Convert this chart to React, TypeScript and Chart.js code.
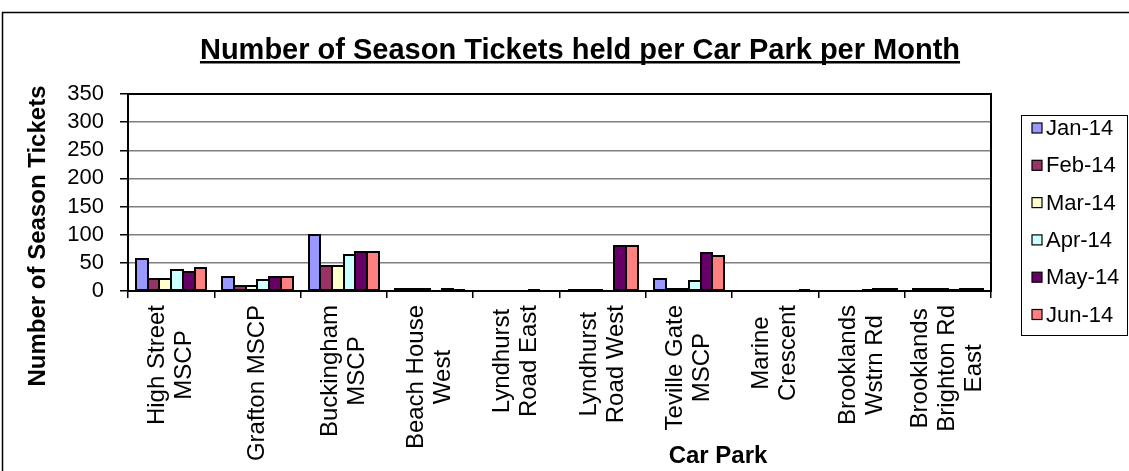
import React, { useEffect, useRef } from "react";
import { Chart, registerables } from "chart.js";

Chart.register(...registerables);

const categories: string[][] = [
  ["High Street", "MSCP"],
  ["Grafton MSCP"],
  ["Buckingham", "MSCP"],
  ["Beach House", "West"],
  ["Lyndhurst", "Road East"],
  ["Lyndhurst", "Road West"],
  ["Teville Gate", "MSCP"],
  ["Marine", "Crescent"],
  ["Brooklands", "Wstrn Rd"],
  ["Brooklands", "Brighton Rd", "East"],
];

const seriesNames = ["Jan-14", "Feb-14", "Mar-14", "Apr-14", "May-14", "Jun-14"];
const jan14 = [57, 25, 99, 3, 0, 2, 21, 0, 0, 3];
const feb14 = [21, 9, 44, 3, 0, 1, 4, 0, 0, 3];
const mar14 = [21, 8, 44, 3, 0, 1, 4, 0, 0, 3];
const apr14 = [37, 20, 64, 0, 0, 0, 18, 0, 1, 1];
const may14 = [34, 25, 70, 3, 1, 80, 67, 0, 4, 3];
const jun14 = [41, 25, 70, 1, 0, 80, 62, 2, 4, 3];
const seriesColors = ["#9999FF", "#993366", "#FFFFCC", "#CCFFFF", "#660066", "#FF8080"];

const yTicks = [0, 50, 100, 150, 200, 250, 300, 350];
const chartTitle = "Number of Season Tickets held per Car Park per Month";
const yTitle = "Number of Season Tickets";
const xTitle = "Car Park";

const FONT = '"Liberation Sans", Arial, sans-serif';

const decorPlugin = {
  id: "decor",
  beforeDraw(chart: any) {
    const ctx = chart.ctx;
    ctx.save();
    ctx.fillStyle = "#fff";
    ctx.fillRect(0, 0, chart.width, chart.height);
    ctx.strokeStyle = "#000";
    ctx.lineWidth = 1.5;
    ctx.strokeRect(2.5, 12.5, 1300, 700);
    ctx.restore();
  },
  afterDatasetsDraw(chart: any) {
    // Excel-like bar outlines, centred on the bar edges
    const ctx = chart.ctx;
    ctx.save();
    ctx.strokeStyle = "#000";
    ctx.lineWidth = 2;
    chart.getSortedVisibleDatasetMetas().forEach((meta: any) => {
      meta.data.forEach((el: any, i: number) => {
        const v = chart.data.datasets[meta.index].data[i];
        if (!v) return;
        const left = Math.round(el.x - el.width / 2);
        const right = Math.round(el.x + el.width / 2);
        const top = Math.round(el.y);
        const base = Math.round(el.base);
        ctx.strokeRect(left, top, right - left, base - top);
      });
    });
    ctx.restore();
  },
  afterDraw(chart: any) {
    const ctx = chart.ctx;
    const area = chart.chartArea;
    ctx.save();
    // plot area border
    ctx.strokeStyle = "#000";
    ctx.lineWidth = 2;
    ctx.strokeRect(area.left, area.top, area.right - area.left, area.bottom - area.top);

    // title
    ctx.fillStyle = "#000";
    ctx.font = `bold 29px ${FONT}`;
    ctx.textAlign = "center";
    ctx.textBaseline = "alphabetic";
    const tx = 580;
    const ty = 59;
    ctx.fillText(chartTitle, tx, ty);
    const tw = ctx.measureText(chartTitle).width;
    ctx.fillRect(tx - tw / 2, ty + 2, tw, 2.5);

    // y title
    ctx.save();
    ctx.translate(38, 236);
    ctx.rotate(-Math.PI / 2);
    ctx.font = `bold 24px ${FONT}`;
    ctx.textAlign = "center";
    ctx.textBaseline = "middle";
    ctx.fillText(yTitle, 0, 0);
    ctx.restore();

    // x title
    ctx.font = `bold 24px ${FONT}`;
    ctx.textAlign = "center";
    ctx.textBaseline = "middle";
    ctx.fillText(xTitle, 718, 456);

    // x category labels (rotated, centred lines)
    const xs = chart.scales.x;
    ctx.font = `24px ${FONT}`;
    const pitch = 27;
    (chart.data.labels as any[]).forEach((lab, i) => {
      const lines: string[] = Array.isArray(lab) ? lab : [lab];
      const cx = xs.getPixelForValue(i);
      const maxW = Math.max(...lines.map((l) => ctx.measureText(l).width));
      const cy = area.bottom + 14 + maxW / 2;
      lines.forEach((ln, j) => {
        const off = (j - (lines.length - 1) / 2) * pitch;
        ctx.save();
        ctx.translate(cx + off, cy);
        ctx.rotate(-Math.PI / 2);
        ctx.textAlign = "center";
        ctx.textBaseline = "middle";
        ctx.fillText(ln, 0, 0);
        ctx.restore();
      });
    });

    // legend
    const lx = 1021.5;
    const ly = 115.5;
    ctx.strokeStyle = "#000";
    ctx.lineWidth = 1;
    ctx.strokeRect(lx, ly, 106, 220);
    ctx.font = `22px ${FONT}`;
    ctx.textAlign = "left";
    ctx.textBaseline = "middle";
    chart.data.datasets.forEach((ds: any, i: number) => {
      const y = 128 + i * 37.3;
      ctx.fillStyle = ds.backgroundColor;
      ctx.fillRect(1032, y - 5, 10, 10);
      ctx.strokeStyle = "#000";
      ctx.lineWidth = 1.2;
      ctx.strokeRect(1032, y - 5, 10, 10);
      ctx.fillStyle = "#000";
      ctx.fillText(ds.label, 1046, y + 1);
    });
    ctx.restore();
  },
};

export default function App() {
  const ref = useRef<HTMLCanvasElement | null>(null);
  useEffect(() => {
    if (!ref.current) return;
    const allSeries = [jan14, feb14, mar14, apr14, may14, jun14];
    const chart = new Chart(ref.current, {
      type: "bar",
      data: {
        labels: categories as any,
        datasets: allSeries.map((d, i) => ({
          label: seriesNames[i],
          data: d,
          backgroundColor: seriesColors[i],
          borderWidth: 0,
          categoryPercentage: 0.813,
          barPercentage: 1.0,
        })),
      },
      options: {
        responsive: false,
        animation: false,
        devicePixelRatio: 1,
        layout: { padding: { top: 94, right: 138, left: 0, bottom: 0 } },
        plugins: {
          legend: { display: false },
          title: { display: false },
          tooltip: { enabled: false },
        },
        scales: {
          x: {
            afterFit: (s: any) => {
              s.height = 180;
            },
            ticks: { display: false },
            grid: {
              display: true,
              offset: true,
              drawOnChartArea: false,
              color: "#000",
              tickLength: 7,
              lineWidth: 1.5,
            },
            border: { display: true, color: "#000", width: 2 },
          },
          y: {
            min: 0,
            max: 350,
            afterFit: (s: any) => {
              s.width = 128;
            },
            afterBuildTicks: (s: any) => {
              s.ticks = yTicks.map((v) => ({ value: v }));
            },
            ticks: {
              color: "#000",
              font: { family: FONT, size: 22 },
              padding: 16,
              autoSkip: false,
            },
            grid: {
              color: "#7f7f7f",
              lineWidth: 1.5,
              tickColor: "#000",
              tickLength: 8,
            },
            border: { display: true, color: "#000", width: 2 },
          },
        },
      },
      plugins: [decorPlugin],
    });
    return () => chart.destroy();
  }, []);
  return (
    <div style={{ position: "fixed", left: 0, top: 0, width: 1129, height: 471, background: "#fff" }}>
      <canvas ref={ref} width={1129} height={471} style={{ display: "block" }} />
    </div>
  );
}
